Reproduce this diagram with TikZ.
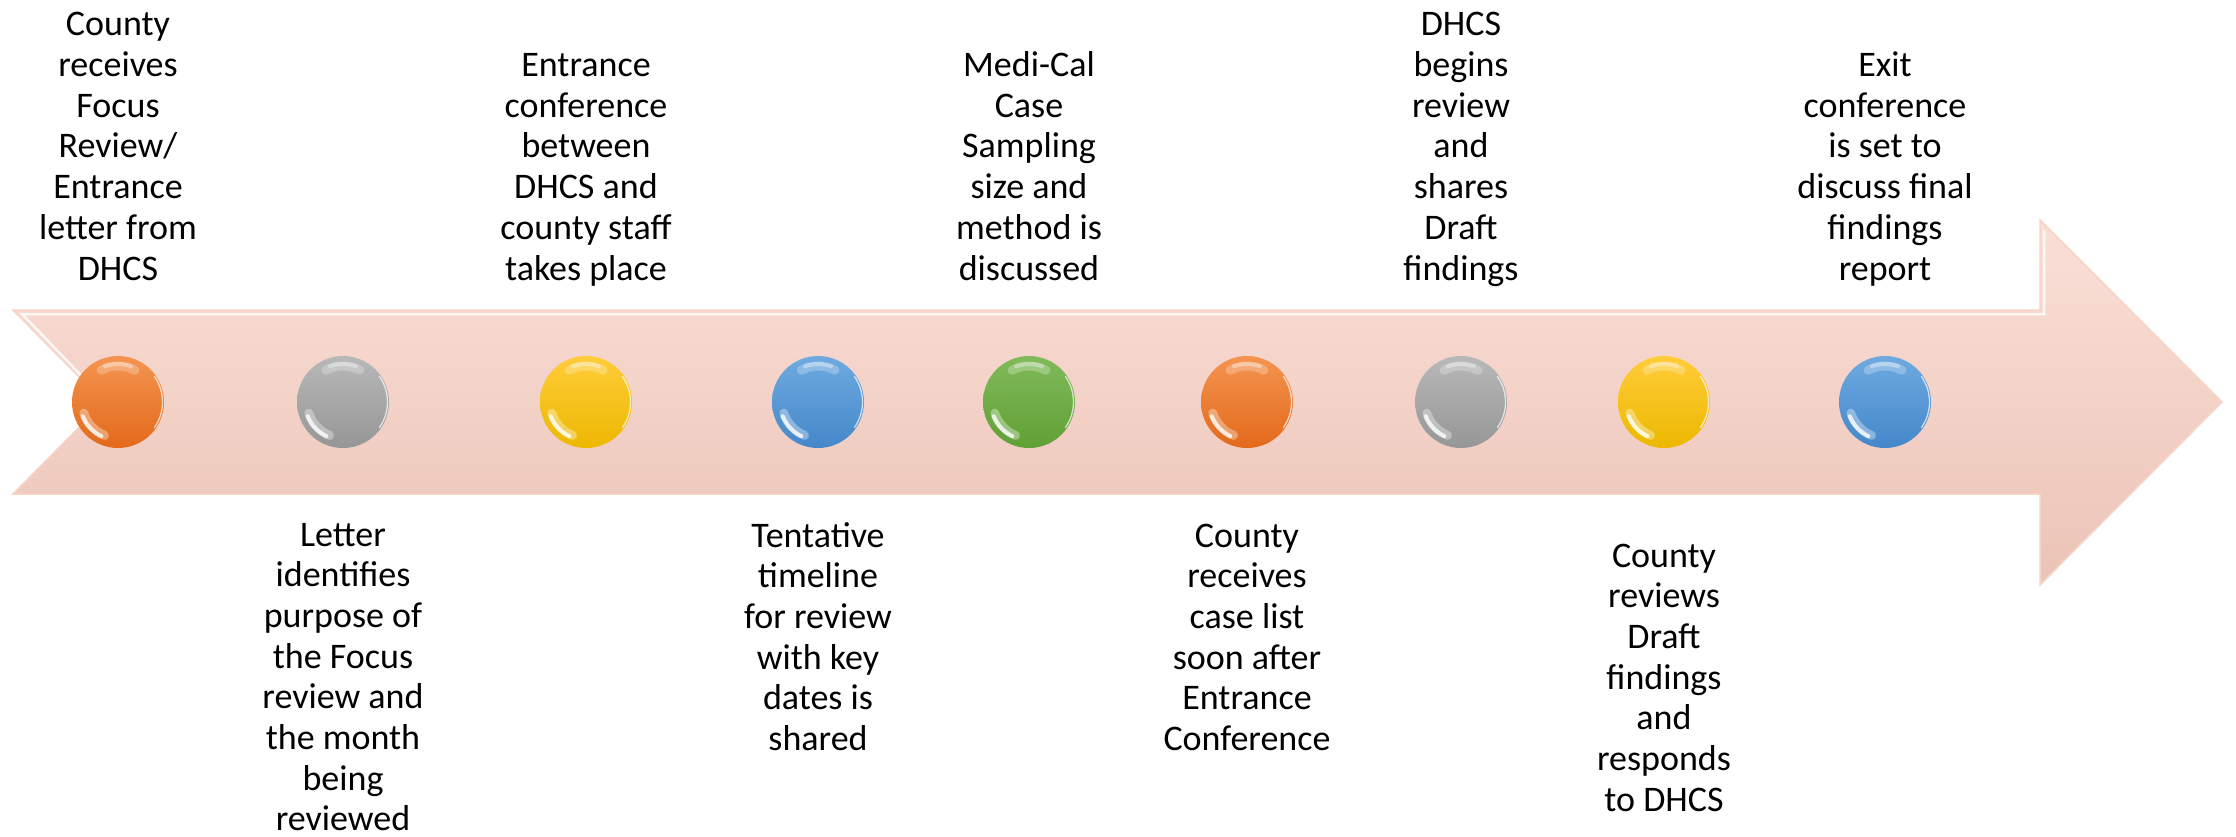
\documentclass[tikz,border=0pt]{standalone}
\usepackage{fontspec}
\setmainfont{Carlito}
\definecolor{arrowtop}{HTML}{FBE0D8}
\definecolor{arrowbot}{HTML}{EBC3B6}
\definecolor{arrowedge}{HTML}{F7D3C8}
\definecolor{orgT}{HTML}{F49450}\definecolor{orgB}{HTML}{E3691A}
\definecolor{gryT}{HTML}{B8B8B8}\definecolor{gryB}{HTML}{969696}
\definecolor{ylwT}{HTML}{FFCC3A}\definecolor{ylwB}{HTML}{ECB800}
\definecolor{bluT}{HTML}{6EAAE0}\definecolor{bluB}{HTML}{4487C9}
\definecolor{grnT}{HTML}{80BA5A}\definecolor{grnB}{HTML}{60A035}
\tikzset{
  ball/.style 2 args={circle, minimum size=92pt, inner sep=0pt,
    top color=#1, bottom color=#2,
    path picture={
      \begin{scope}[shift={(path picture bounding box.center)}, x=1pt, y=1pt, line cap=round]
        \draw[white, opacity=0.25, line width=9pt] (62:36) arc (62:118:36);
        \draw[white, opacity=0.35, line width=4pt] (70:38) arc (70:110:38);
        \draw[white, opacity=0.35, line width=9pt] (198:36) arc (198:248:36);
        \draw[white, opacity=0.8, line width=4pt] (202:38) arc (202:244:38);
        \draw[white, opacity=0.7, line width=1.3pt] (-35:44.5) arc (-35:35:44.5);
      \end{scope}}},
  txt/.style={font=\fontsize{36}{40.7}\selectfont, inner sep=0pt, anchor=base, text=black},
}
\newcommand{\topblock}[1]{\begin{tabular}[b]{@{}c@{}}#1\end{tabular}}
\newcommand{\botblock}[1]{\begin{tabular}[t]{@{}c@{}}#1\end{tabular}}
\begin{document}
\begin{tikzpicture}[x=1pt,y=-1pt]
\fill[white] (0,0) rectangle (2236,836);
\useasboundingbox (0,0) rectangle (2236,836);
% arrow
\shade[top color=arrowtop, bottom color=arrowbot, draw=arrowedge, line width=1.5pt, line join=miter]
  (13,310) -- (2040,310) -- (2040,220) -- (2222,402) -- (2040,585) -- (2040,494) -- (13,494) -- (104,402) -- cycle;
\draw[white, opacity=0.8, line width=2.5pt] (98,393) -- (22,314) -- (2044,314) -- (2044,230);
% balls
\node[ball={orgT}{orgB}] (c1) at (118,402) {};
\node[ball={gryT}{gryB}] (c2) at (343,402) {};
\node[ball={ylwT}{ylwB}] (c3) at (586,402) {};
\node[ball={bluT}{bluB}] (c4) at (818,402) {};
\node[ball={grnT}{grnB}] (c5) at (1029,402) {};
\node[ball={orgT}{orgB}] (c6) at (1247,402) {};
\node[ball={gryT}{gryB}] (c7) at (1461,402) {};
\node[ball={ylwT}{ylwB}] (c8) at (1664,402) {};
\node[ball={bluT}{bluB}] (c9) at (1885,402) {};
% top texts
\node[txt] (t1) at (118,280) {\topblock{County\\receives\\Focus\\Review/\\Entrance\\letter from\\DHCS}};
\node[txt] (t3) at (586,280) {\topblock{Entrance\\conference\\between\\DHCS and\\county staff\\takes place}};
\node[txt] (t5) at (1029,280) {\topblock{Medi-Cal\\Case\\Sampling\\size and\\method is\\discussed}};
\node[txt] (t7) at (1461,280) {\topblock{DHCS\\begins\\review\\and\\shares\\Draft\\findings}};
\node[txt] (t9) at (1885,280) {\topblock{Exit\\conference\\is set to\\discuss final\\findings\\report}};
% bottom texts
\node[txt] (t2) at (343,546) {\botblock{Letter\\identifies\\purpose of\\the Focus\\review and\\the month\\being\\reviewed\\[-12pt]}};
\node[txt] (t4) at (818,547) {\botblock{Tentative\\timeline\\for review\\with key\\dates is\\shared}};
\node[txt] (t6) at (1247,547) {\botblock{County\\receives\\case list\\soon after\\Entrance\\Conference}};
\node[txt] (t8) at (1664,567) {\botblock{County\\reviews\\Draft\\findings\\and\\responds\\to DHCS}};
\end{tikzpicture}
\end{document}
